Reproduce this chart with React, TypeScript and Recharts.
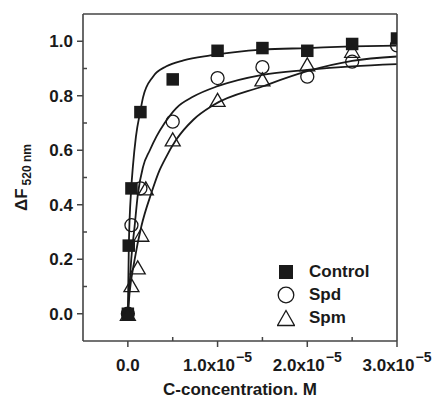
import {
  ComposedChart,
  Line,
  Scatter,
  XAxis,
  YAxis,
  ReferenceLine,
  Legend,
} from 'recharts';

// measured points (x in units of 1e-5 M)
const ctrlX = [0, 0.01, 0.04, 0.14, 0.5, 1.0, 1.5, 2.0, 2.5, 3.0];
const ctrlY = [0.0, 0.25, 0.46, 0.74, 0.86, 0.965, 0.975, 0.965, 0.99, 1.01];

const spdX = [0, 0.04, 0.14, 0.5, 1.0, 1.5, 2.0, 2.5, 3.0];
const spdY = [0.0, 0.325, 0.46, 0.705, 0.865, 0.905, 0.87, 0.925, 0.985];

const spmX = [0, 0.04, 0.11, 0.15, 0.2, 0.5, 1.0, 1.5, 2.0, 2.5];
const spmY = [0.0, 0.105, 0.17, 0.29, 0.46, 0.64, 0.785, 0.86, 0.915, 0.965];

// fitted curves
const ctrlFitX = [0, 0.011, 0.038, 0.056, 0.09, 0.14, 0.17, 0.28, 0.43, 0.62, 0.92, 1.5, 2.0, 2.5, 3.0];
const ctrlFitY = [0, 0.25, 0.46, 0.54, 0.65, 0.745, 0.795, 0.87, 0.908, 0.93, 0.948, 0.969, 0.975, 0.981, 0.984];

const spdFitX = [0, 0.011, 0.038, 0.075, 0.112, 0.17, 0.245, 0.318, 0.41, 0.54, 0.73, 1.0, 1.5, 2.0, 2.5, 3.0];
const spdFitY = [0, 0.06, 0.2, 0.32, 0.44, 0.54, 0.6, 0.65, 0.7, 0.755, 0.797, 0.835, 0.877, 0.895, 0.908, 0.916];

const spmFitX = [0, 0.019, 0.075, 0.15, 0.262, 0.355, 0.41, 0.54, 0.73, 0.95, 1.5, 2.0, 2.5, 3.0];
const spmFitY = [0, 0.076, 0.198, 0.32, 0.443, 0.528, 0.565, 0.639, 0.712, 0.765, 0.834, 0.89, 0.928, 0.944];

const xTicks = [0, 0.5, 1, 1.5, 2, 2.5, 3];
const xMajorLabels: Record<string, string> = { '0': '0.0', '1': '1.0x10', '2': '2.0x10', '3': '3.0x10' };
const yTicks = [0, 0.1, 0.2, 0.3, 0.4, 0.5, 0.6, 0.7, 0.8, 0.9, 1.0];

const legendNames = ['Control', 'Spd', 'Spm'];

const FONT = '"Liberation Sans", Arial, Helvetica, sans-serif';
const INK = '#1a1a1a';
const FRAME = '#444';

const zip = (xs: number[], ys: number[]) => xs.map((x, i) => ({ x, y: ys[i] }));

const SquareDot = (p: any) => (
  <rect x={p.cx - 6.25} y={p.cy - 6.25} width={12.5} height={12.5} fill={INK} />
);
const CircleDot = (p: any) => (
  <circle cx={p.cx} cy={p.cy} r={6.5} fill="none" stroke={INK} strokeWidth={1.3} />
);
const TriDot = (p: any) => (
  <polygon
    points={`${p.cx},${p.cy - 6.5} ${p.cx + 7.5},${p.cy + 6.5} ${p.cx - 7.5},${p.cy + 6.5}`}
    fill="none"
    stroke={INK}
    strokeWidth={1.3}
  />
);

const YTick = ({ x, y, payload }: any) => {
  const major = Math.round(payload.value * 10) % 2 === 0;
  return (
    <g>
      {major ? (
        <line x1={x - 6} x2={x} y1={y} y2={y} stroke={FRAME} strokeWidth={1.5} />
      ) : (
        <line x1={x} x2={x + 4} y1={y} y2={y} stroke={FRAME} strokeWidth={1.5} />
      )}
      {major && (
        <text x={x - 10} y={y} dy="0.36em" textAnchor="end" fontFamily={FONT} fontWeight="bold" fontSize={17} fill={INK}>
          {payload.value.toFixed(1)}
        </text>
      )}
    </g>
  );
};

const XTick = ({ x, y, payload }: any) => {
  const label = xMajorLabels[String(payload.value)];
  return (
    <g>
      {label ? (
        <line x1={x} x2={x} y1={y} y2={y + 6} stroke={FRAME} strokeWidth={1.5} />
      ) : (
        <line x1={x} x2={x} y1={y - 4} y2={y} stroke={FRAME} strokeWidth={1.5} />
      )}
      {label && (
        <text x={x} y={y + 30} textAnchor="middle" fontFamily={FONT} fontWeight="bold" fontSize={17} fill={INK}>
          {label}
          {payload.value !== 0 && (
            <tspan dx={1} dy={-9} fontSize={14}>
              −5
            </tspan>
          )}
        </text>
      )}
    </g>
  );
};

const YLabel = ({ viewBox }: any) => {
  const cx = 27;
  const cy = viewBox.y + viewBox.height / 2;
  return (
    <text
      x={cx}
      y={cy}
      transform={`rotate(-90, ${cx}, ${cy})`}
      textAnchor="middle"
      fontFamily={FONT}
      fontWeight="bold"
      fontSize={17}
      fill={INK}
    >
      ΔF
      <tspan dx={3} dy={4} fontSize={12}>
        520 nm
      </tspan>
    </text>
  );
};

const LegendIcon = ({ idx }: { idx: number }) => (
  <svg width={18} height={18}>
    {idx === 0 && <rect x={2} y={2} width={14} height={14} fill={INK} />}
    {idx === 1 && <circle cx={9} cy={9} r={7.8} fill="none" stroke={INK} strokeWidth={1.3} />}
    {idx === 2 && <polygon points="9,1.5 17.5,16.5 0.5,16.5" fill="none" stroke={INK} strokeWidth={1.3} />}
  </svg>
);

const LegendBox = () => (
  <div style={{ fontFamily: FONT, fontWeight: 'bold', fontSize: 17, color: INK }}>
    {legendNames.map((n, i) => (
      <div key={n} style={{ display: 'flex', alignItems: 'center', height: 23 }}>
        <LegendIcon idx={i} />
        <span style={{ marginLeft: 14 }}>{n}</span>
      </div>
    ))}
  </div>
);

export default function App() {
  return (
    <div style={{ position: 'absolute', left: 0, top: 0, background: '#fff' }}>
      <ComposedChart width={435} height={398} margin={{ top: 14, right: 38, left: 0, bottom: 0 }}>
        <XAxis
          type="number"
          dataKey="x"
          domain={[-0.5, 3]}
          allowDataOverflow
          ticks={xTicks}
          tick={<XTick />}
          tickLine={false}
          tickSize={0}
          tickMargin={0}
          height={57}
          axisLine={{ stroke: FRAME, strokeWidth: 1.6 }}
          label={{
            value: 'C-concentration. M',
            position: 'insideBottom',
            offset: 3,
            fontFamily: FONT,
            fontWeight: 'bold',
            fontSize: 17,
            fill: INK,
          }}
        />
        <YAxis
          type="number"
          domain={[-0.1, 1.1]}
          ticks={yTicks}
          tick={<YTick />}
          tickLine={false}
          tickSize={0}
          tickMargin={0}
          width={83}
          axisLine={{ stroke: FRAME, strokeWidth: 1.6 }}
          label={{ content: <YLabel /> }}
        />
        <Legend
          layout="vertical"
          align="center"
          verticalAlign="middle"
          content={<LegendBox />}
          wrapperStyle={{ left: 277, top: 260, width: 130 }}
        />
        <Line data={zip(ctrlFitX, ctrlFitY)} dataKey="y" type="monotone" stroke={INK} strokeWidth={1.8} dot={false} isAnimationActive={false} />
        <Line data={zip(spdFitX, spdFitY)} dataKey="y" type="monotone" stroke={INK} strokeWidth={1.8} dot={false} isAnimationActive={false} />
        <Line data={zip(spmFitX, spmFitY)} dataKey="y" type="monotone" stroke={INK} strokeWidth={1.8} dot={false} isAnimationActive={false} />
        <Scatter data={zip(ctrlX, ctrlY)} dataKey="y" shape={<SquareDot />} isAnimationActive={false} />
        <Scatter data={zip(spdX, spdY)} dataKey="y" shape={<CircleDot />} isAnimationActive={false} />
        <Scatter data={zip(spmX, spmY)} dataKey="y" shape={<TriDot />} isAnimationActive={false} />
        <ReferenceLine y={1.1} stroke={FRAME} strokeWidth={1.6} />
        <ReferenceLine x={3} stroke={FRAME} strokeWidth={1.6} />
      </ComposedChart>
    </div>
  );
}
